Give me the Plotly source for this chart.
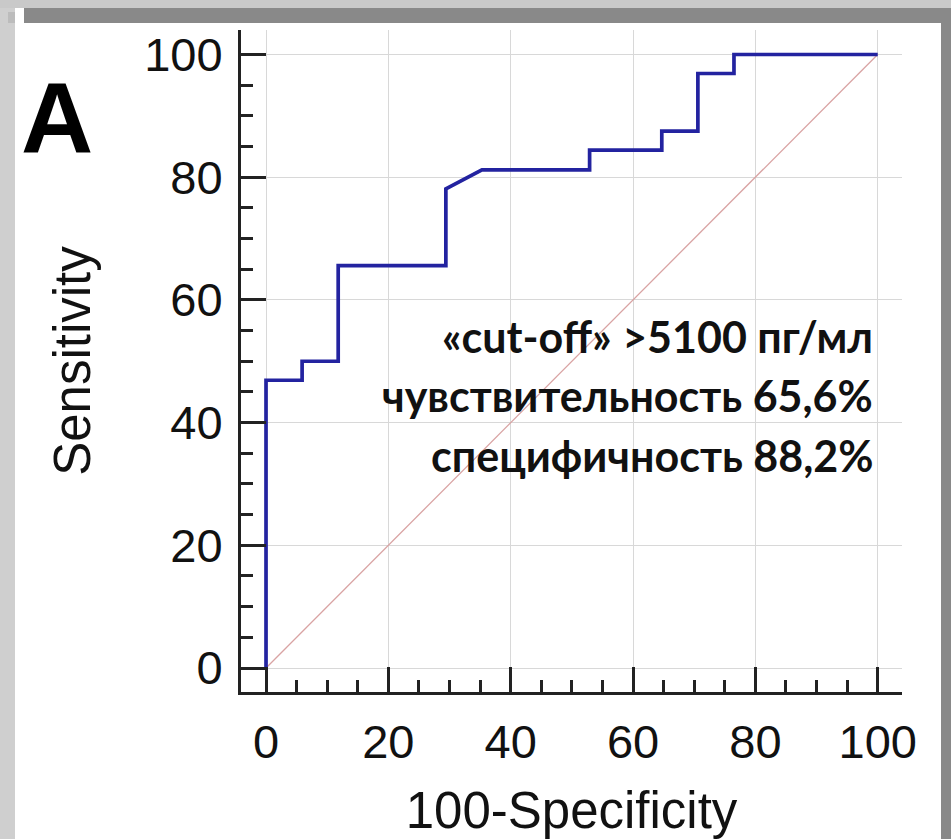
import plotly.graph_objects as go

# ROC curve data (100-Specificity, Sensitivity)
fpr = [0, 0, 5.9, 5.9, 11.8, 11.8, 29.4, 29.4, 35.3, 52.9, 52.9, 64.7, 64.7, 70.6, 70.6, 76.5, 76.5, 100]
tpr = [0, 46.9, 46.9, 50.0, 50.0, 65.6, 65.6, 78.1, 81.2, 81.2, 84.4, 84.4, 87.5, 87.5, 96.9, 96.9, 100, 100]
diag_x = [0, 100]
diag_y = [0, 100]
tick_vals = [0, 20, 40, 60, 80, 100]
tick_text = ["0", "20", "40", "60", "80", "100"]
annot_lines = ["«cut-off» >5100 пг/мл", "чувствительность 65,6%", "специфичность 88,2%"]
panel_label = "A"
x_title = "100-Specificity"
y_title = "Sensitivity"

W, H = 951, 839
L, T = 241, 30
PW, PH = 661, 662
R = W - L - PW
B = H - T - PH

def px(x):
    return (x - L) / PW

def py(y):
    return (T + PH - y) / PH

AX = "Liberation Sans, Arial, sans-serif"

fig = go.Figure()
fig.add_trace(go.Scatter(x=diag_x, y=diag_y, mode="lines",
                         line=dict(color="#d9a3a3", width=1.3), hoverinfo="skip", showlegend=False))
fig.add_trace(go.Scatter(x=fpr, y=tpr, mode="lines",
                         line=dict(color="#2323a0", width=3.7), showlegend=False))

axis_common = dict(
    tickvals=tick_vals, ticktext=tick_text,
    showgrid=True, gridcolor="#d8d8d8", gridwidth=1,
    zeroline=False, showline=True, linecolor="#222222", linewidth=3,
    ticks="inside", ticklen=25, tickwidth=3, tickcolor="#222222",
    minor=dict(dtick=5, tick0=0, ticks="inside", ticklen=12, tickwidth=2.5,
               tickcolor="#222222", showgrid=False),
    tickfont=dict(family=AX, size=47, color="#111111"),
    fixedrange=True, automargin=False,
)

fig.update_xaxes(range=[-4.09, 103.97], ticklabelstandoff=7,
                 title=dict(text=x_title, font=dict(family=AX, size=51, color="#111111"), standoff=27),
                 **axis_common)
fig.update_yaxes(range=[-3.91, 103.99], ticklabelstandoff=6,
                 title=dict(text=y_title, font=dict(family=AX, size=51, color="#111111"), standoff=38),
                 **axis_common)

# annotation lines
line_y = [336, 396, 455]
for txt, yy in zip(annot_lines, line_y):
    fig.add_annotation(x=px(875), y=py(yy), xref="paper", yref="paper",
                       text=txt, showarrow=False, xanchor="right", yanchor="middle",
                       font=dict(family="Lato, Open Sans, sans-serif", size=43, color="#111111", weight="bold"))

fig.add_annotation(x=px(57), y=py(118), xref="paper", yref="paper", text="<b>" + panel_label + "</b>",
                   showarrow=False, xanchor="center", yanchor="middle",
                   font=dict(family=AX, size=100, color="#000000"))

# frame of the picture
shapes = [
    dict(x0=0, x1=W, y0=0, y1=8, color="#c9c9c9"),
    dict(x0=24, x1=W, y0=8, y1=23, color="#898989"),
    dict(x0=0, x1=15, y0=8, y1=H, color="#cfcfcf"),
    dict(x0=941, x1=W, y0=8, y1=H, color="#898989"),
    dict(x0=8, x1=15, y0=12, y1=23, color="#bcbcbc"),
]
for s in shapes:
    fig.add_shape(type="rect", xref="paper", yref="paper",
                  x0=px(s["x0"]), x1=px(s["x1"]), y0=py(s["y1"]), y1=py(s["y0"]),
                  fillcolor=s["color"], line=dict(width=0), layer="above")

fig.update_layout(width=W, height=H, margin=dict(l=L, r=R, t=T, b=B),
                  paper_bgcolor="white", plot_bgcolor="white", showlegend=False)

fig.write_html("out.html", config={"displayModeBar": False})
